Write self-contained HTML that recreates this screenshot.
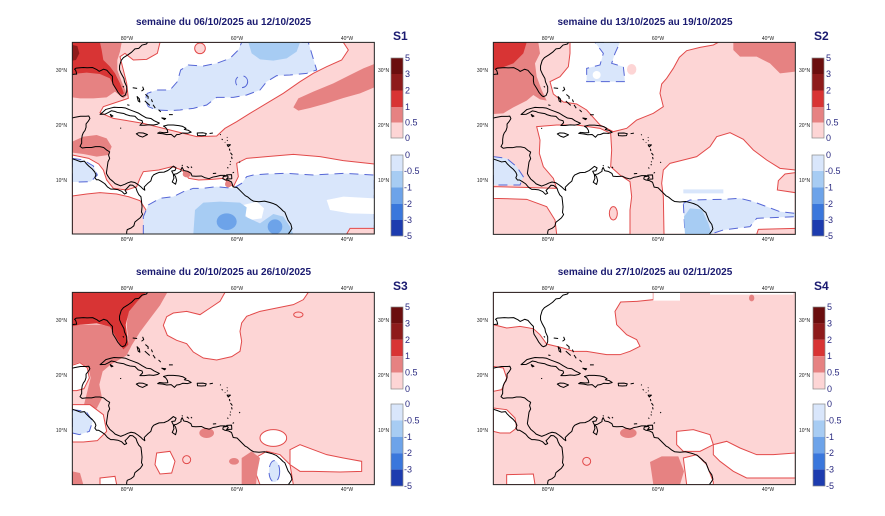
<!DOCTYPE html>
<html><head><meta charset="utf-8">
<style>
html,body{margin:0;padding:0;background:#fff;}
svg{display:block;}
.lp{fill:#fdd5d5}
.mp{fill:#e68282}
.r{fill:#d83434}
.dr{fill:#8e1b1b}
.w{fill:#fff;stroke:#e24a4a;stroke-width:1;vector-effect:non-scaling-stroke}
.wn{fill:#fff}
.lpc{fill:#fdd5d5;stroke:#e24a4a;stroke-width:1;vector-effect:non-scaling-stroke}
.rc{fill:none;stroke:#e24a4a;stroke-width:1;vector-effect:non-scaling-stroke}
.lb{fill:#d9e6fb;stroke:#5566d6;stroke-width:1;stroke-dasharray:9 6;vector-effect:non-scaling-stroke}
.lbn{fill:#d9e6fb}
.mb{fill:#a7ccf3}
.b{fill:#6da3e9}
.cst{fill:none;stroke:#000;stroke-width:1;vector-effect:non-scaling-stroke;stroke-linejoin:round}
.tt{font-family:"Liberation Sans",Arial,sans-serif;font-weight:bold;font-size:10px;fill:#1a1a70}
.sl{font-family:"Liberation Sans",Arial,sans-serif;font-weight:bold;font-size:12px;fill:#1a1a70}
.tk{font-family:"Liberation Sans",Arial,sans-serif;font-size:5px;fill:#222}
.cb{font-family:"Liberation Sans",Arial,sans-serif;font-size:9px;fill:#2a2a80}
</style></head>
<body>
<svg width="885" height="516" viewBox="0 0 885 516" xmlns="http://www.w3.org/2000/svg">
<defs>
<clipPath id="c1"><rect x="37" y="97" width="906" height="575"/></clipPath>
<clipPath id="c2"><rect x="40" y="97" width="906" height="576"/></clipPath>
<clipPath id="c3"><rect x="37" y="103" width="906" height="577"/></clipPath>
<clipPath id="c4"><rect x="40" y="103" width="906" height="577"/></clipPath>
<g id="coast">
<path class="cst" d="M-76.2,35.1 L-76.5,34.7 -77.3,34.5 -77.9,33.9 -78.6,33.8 -79.2,33.2 -79.9,32.7 -80.7,32.2 -81.1,31.7 -81.4,30.7 -81.4,30 -81.1,29.3 -80.6,28.4 -80.5,27.8 -80.1,26.9 -80.1,26 -80.4,25.3 -80.9,25.1 -81.2,25.3 -81.7,25.9 -82.1,26.6 -82.6,27.4 -82.7,28 -82.7,28.8 -83.1,29.2 -83.7,29.9 -84.3,30.1 -85.1,29.7 -85.5,30 -86.3,30.4 -87.3,30.35 -88,30.4 -88.6,30.35 -89.3,30.3 -89.6,30.1 -89.4,29.9 -89.3,29.6 -89.2,29.2 -89.5,29.2 -90.2,29.1"/>
<path class="cst" d="M-90.2,21.15 L-89.6,21.3 -88.5,21.5 -87.5,21.5 -87,21.55 -86.8,21.1 -87.1,20.6 -87.5,20.1 -87.5,19.5 -87.7,18.9 -88,18.5 -88.2,18 -88.3,17.3 -88.3,16.6 -88.6,16 -88.2,15.7 -87.5,15.8 -86.5,15.8 -85.8,15.95 -85,15.95 -84.3,15.8 -83.7,15.3 -83.2,15 -83.4,14.4 -83.2,13.8 -83.5,13.2 -83.6,12.5 -83.7,11.8 -83.8,11.1 -83.6,10.7 -83.2,10.1 -82.6,9.6 -82.2,9.2 -81.7,9 -81.2,8.8 -80.4,9.1 -79.9,9.35 -79.3,9.55 -78.6,9.4 -78,9 -77.5,8.6 -77.2,8.3 -76.8,8 -76.9,8.6 -76.2,9.3 -75.7,9.7 -75.5,10.4 -75.2,10.8 -74.8,11 -74.2,11.25 -73.3,11.3 -72.6,11.6 -72.2,11.9 -71.6,12.4 -71.1,12.1 -71.3,11.6 -71.9,11.5 -71.6,10.9 -71.5,10.2 -71.8,9.5 -71.2,9.1 -71,9.8 -71.2,10.5 -71.5,10.9 -71,11 -70.5,11.3 -70.2,11.5 -70.2,11.8 -70,12.2 -69.7,11.6 -69,11.45 -68.4,11.1 -68.2,10.6 -67.5,10.55 -66.5,10.6 -65.9,10.3 -65.1,10.1 -64.4,10.4 -63.8,10.5 -63,10.7 -62.2,10.7 -61.9,10.6 -62.5,10.5 -62.6,10.1 -62.2,9.9 -61.6,9.8 -61,9.5 -60.7,8.6 -60,8.5 -59.5,8 -59,7.5 -58.5,7 -58.1,6.8 -57.5,6.3 -57,6 -56,5.9 -55,6 -54,5.75 -53.5,5.6 -52.8,5.3 -52.1,4.7 -51.6,4.2 -51.3,4 -51.1,3.5 -50.7,2.5 -50.2,1.8 -50,1 -50.3,0.5 -50.6,0.1 -50.7,-0.2"/>
<path class="cst" d="M-90.5,13.9 L-89.3,13.5 -88.5,13.2 -87.8,13.3 -87.5,12.9 -87,12.4 -86.4,11.9 -85.9,11.3 -85.7,10.8 -85.9,10.3 -85.6,9.9 -85.2,9.9 -84.7,9.6 -84.1,9.2 -83.6,8.6 -83.3,8.4 -83,8.2 -82.5,8.2 -81.7,8.1 -81,7.8 -80.5,7.3 -80.1,7.5 -80.4,8 -80,8.4 -79.5,8.95 -79,8.9 -78.4,8.4 -78.2,7.8 -77.9,7.2 -77.5,6.8 -77.4,6 -77.3,5 -77.4,4 -77.2,3.6 -77.6,3 -78.1,2.6 -78.6,2.2 -78.8,1.5 -79.3,1.1 -80,0.8 -80.1,0.4 -80.1,-0.2"/>
<path class="cst" d="M-84.95,21.85 L-84.4,22.3 -83.9,22.75 -83,23 -82.4,23.15 -81.6,23.1 -81,23.1 -80.3,23 -79.6,22.7 -78.8,22.4 -78,22.1 -77.3,21.65 -76.5,21.2 -75.7,21.1 -75.1,20.7 -74.15,20.25 -74.5,20.05 -75.2,19.9 -76,19.95 -76.9,19.85 -77.7,19.85 -77.2,20.35 -77.3,20.7 -78,20.9 -78.6,21.5 -79.5,21.6 -80.2,21.8 -80.6,22 -81.2,22.1 -81.8,22.2 -82.3,22.4 -82.9,22.5 -83.4,22.2 -84,21.9 Z"/>
<path class="cst" d="M-74.45,18.4 L-73.5,18.3 -72.8,18.15 -72,18.2 -71.4,17.7 -71,18.15 -70.5,18.2 -69.9,18.45 -69,18.4 -68.35,18.6 -68.9,18.95 -69.6,19.1 -69.3,19.3 -69.9,19.65 -70.6,19.8 -71.6,19.9 -72.6,19.9 -73.4,19.7 -73,19.45 -72.7,19 -72.6,18.55 -73.3,18.5 -74.1,18.6 Z"/>
<path class="cst" d="M-78.35,18.3 L-77.9,18.5 -77.1,18.45 -76.3,18.15 -76.8,17.9 -77.2,17.7 -77.8,17.9 -78.2,18.2 Z"/>
<path class="cst" d="M-67.25,18.45 L-66.2,18.48 -65.6,18.35 -65.75,18 -66.5,17.95 -67.2,18 Z"/>
<path class="cst" d="M-83.1,21.85 L-82.6,21.55 -82.9,21.45 Z"/>
<path class="cst" d="M-61.9,10.8 L-61,10.85 -60.95,10.1 -61.9,10.05 -61.6,10.4 Z"/>
<path class="cst" d="M-79,26.7 L-78.2,26.6 M-77.2,26.9 L-77,26.4 -77.4,26.1 M-78.2,25.1 L-77.8,24.7 -77.7,24.1 -78,24.3 Z M-76.7,25.5 L-76.2,25.1 -76.2,24.7 M-76.8,24.3 L-75.9,23.5 M-75.3,23.6 L-74.9,23 M-75.6,24.6 L-75.4,24.1 M-74.3,22.7 L-73.9,22.3 M-73.7,21.2 L-73,21.1 -73.2,20.9 Z M-72.4,21.8 L-71.7,21.8 M-80,23.6 L-79.6,23.5 M-81.3,19.3 L-81.1,19.35 M-80.8,27 L-80.6,26.8 M-65,18.35 L-64.4,18.45 M-63.1,18.2 L-62.95,18.1 M-62.8,17.35 L-62.6,17.2 M-61.85,17.6 L-61.75,17.7 M-62.2,16.8 L-62.15,16.7 M-61.85,17.1 L-61.7,17.05 M-61.8,16.3 L-61.2,16.3 -61.6,15.95 Z M-61.4,15.6 L-61.3,15.2 M-61.2,14.85 L-60.85,14.4 M-61,14.1 L-60.9,13.7 M-61.25,13.3 L-61.15,13.15 M-59.6,13.2 L-59.45,13.05 M-61.3,12.8 L-61.2,12.6 M-61.75,12.2 L-61.6,12 M-60.8,11.15 L-60.55,11.3 M-70.05,12.6 L-69.9,12.45 M-69.15,12.35 L-68.75,12.05 M-68.4,12.3 L-68.2,12.1 M-64.4,11.05 L-63.8,11.1"/>
</g>
</defs>

<rect width="885" height="516" fill="#fff"/>

<!-- ============ PANEL 1 ============ -->
<g transform="translate(60,10) scale(0.333333)">
<g clip-path="url(#c1)">
<rect class="lp" x="37" y="97" width="906" height="575"/>
<path class="mp" d="M37,97 L185,97 180,125 172,150 172,180 185,215 202,255 190,265 165,245 140,262 100,265 60,265 37,262Z"/>
<path class="r" d="M37,97 L120,97 125,120 130,150 150,170 165,190 180,220 192,250 185,255 165,235 150,205 120,192 80,188 37,192Z"/>
<path class="dr" d="M37,105 L52,108 58,130 48,150 37,152Z"/>
<path class="mp" d="M37,395 L70,380 110,375 140,385 155,410 145,435 110,440 70,432 37,428Z"/>
<path class="w" d="M300,97 L850,97 865,120 845,150 800,170 760,190 720,215 670,250 620,280 570,310 530,335 495,355 470,378 410,380 330,360 250,340 160,325 120,308 130,290 205,265 200,220 190,180 180,140 195,130 220,150 260,148 292,130Z"/>
<circle class="lpc" cx="420" cy="115" r="16"/>
<path class="lb" d="M545,97 L745,97 755,130 770,180 740,190 690,195 650,197 620,215 600,240 560,255 520,262 470,262 440,285 400,295 360,300 330,302 290,300 265,290 255,270 262,250 290,240 330,240 352,215 362,180 385,165 430,168 470,160 510,145 535,120Z"/>
<circle class="lb" cx="545" cy="215" r="18"/>
<path class="mb" d="M565,97 L720,97 710,125 680,145 640,152 600,148 575,130Z"/>
<path class="mp" d="M700,292 L715,265 760,245 820,220 870,195 910,175 943,162 943,232 900,250 850,264 800,280 750,294 715,302Z"/>
<path class="w" d="M37,435 L86,445 116,462 130,480 140,510 160,535 200,540 230,530 240,505 250,485 296,480 336,470 366,480 386,505 416,510 456,508 490,505 520,530 535,500 530,460 560,445 620,440 700,433 780,440 850,452 943,462 943,672 37,672Z"/>
<path class="lpc" d="M37,558 L80,552 120,548 170,552 205,560 240,572 258,600 252,672 37,672Z"/>
<path class="lb" d="M37,445 L70,450 100,468 112,495 92,515 55,516 37,516Z"/>
<path class="lb" d="M250,672 L250,620 265,585 300,565 340,560 370,545 400,535 430,535 470,530 520,535 545,520 560,500 580,495 620,492 680,490 760,495 850,490 943,495 943,672Z"/>
<path class="wn" d="M800,570 L850,560 943,565 943,612 870,610 810,600Z"/>
<path class="wn" d="M550,585 L590,575 612,595 605,625 570,630 550,610Z"/>
<path class="lpc" d="M860,672 L870,655 943,655 943,672Z"/>
<path class="mb" d="M400,672 L405,600 430,578 480,575 540,578 560,592 556,620 600,640 640,612 670,620 690,650 700,672Z"/>
<ellipse class="b" cx="500" cy="635" rx="30" ry="25"/>
<ellipse class="b" cx="645" cy="650" rx="22" ry="22"/>
<ellipse class="mp" cx="380" cy="492" rx="12" ry="10"/>
<ellipse class="mp" cx="505" cy="522" rx="10" ry="10"/>
<use href="#coast" transform="translate(37,97) scale(16.47,-16.43) translate(90,-35)"/>
</g>
<rect x="37" y="97" width="906" height="575" fill="none" stroke="#222" stroke-width="1" style="vector-effect:non-scaling-stroke"/>
</g>

<!-- ============ PANEL 2 ============ -->
<g transform="translate(480,10) scale(0.333333)">
<g clip-path="url(#c2)">
<rect class="lp" x="40" y="97" width="906" height="576"/>
<path class="mp" d="M40,97 L175,97 180,130 165,160 170,200 185,240 200,272 180,268 160,255 140,272 100,292 70,310 40,312Z"/>
<path class="r" d="M40,97 L140,97 130,130 100,160 60,175 40,180Z"/>
<path class="w" d="M270,97 L715,97 700,105 660,112 620,122 598,142 580,175 560,205 545,222 540,250 550,290 520,310 470,330 440,355 400,365 360,345 320,300 290,282 250,276 220,252 210,215 240,200 265,170 270,130Z"/>
<ellipse class="lp" cx="455" cy="178" rx="14" ry="16"/>
<path class="lb" d="M345,97 L420,97 405,130 395,160 430,170 435,215 360,215 320,215 320,175 360,165 370,130Z"/>
<circle class="wn" cx="350" cy="195" r="12"/>
<path class="mp" d="M760,97 L946,97 946,185 900,190 870,160 830,140 780,140 760,120Z"/>
<path class="w" d="M170,350 L230,345 290,345 360,355 392,370 395,420 392,470 420,495 450,515 455,560 450,600 450,673 230,673 225,630 200,590 140,568 40,565 40,530 130,532 230,535 220,505 190,470 178,430 180,390Z"/>
<path class="lb" d="M40,440 L80,445 110,470 130,500 120,525 80,525 40,525Z"/>
<ellipse class="lpc" cx="400" cy="610" rx="12" ry="20"/>
<path class="w" d="M550,480 L570,460 610,450 650,440 690,410 710,380 750,368 790,388 820,420 860,450 900,475 946,480 946,673 552,673 550,560 545,520Z"/>
<path class="lpc" d="M946,488 L915,492 895,512 892,540 946,548Z"/>
<path class="lbn" d="M610,538 L730,538 730,550 610,550Z"/>
<path class="lb" d="M610,580 L630,570 730,568 780,565 820,575 860,590 900,605 946,610 946,620 830,625 810,650 730,660 690,673 615,673Z"/>
<path class="mb" d="M615,673 L612,620 630,595 665,598 685,640 695,673Z"/>
<path class="lpc" d="M830,673 L835,658 946,655 946,673Z"/>
<use href="#coast" transform="translate(40,97) scale(16.47,-16.46) translate(90,-35)"/>
</g>
<rect x="40" y="97" width="906" height="576" fill="none" stroke="#222" stroke-width="1" style="vector-effect:non-scaling-stroke"/>
</g>

<!-- ============ PANEL 3 ============ -->
<g transform="translate(60,258) scale(0.333333)">
<g clip-path="url(#c3)">
<rect class="lp" x="37" y="103" width="906" height="577"/>
<path class="mp" d="M37,200 L37,320 60,312 85,330 92,360 82,400 72,440 110,452 126,420 118,380 128,340 152,320 200,292 215,262 240,222 270,182 300,142 322,103 255,103 230,130 205,160 200,200 205,250 190,270 175,245 155,205 120,200 70,200Z"/>
<path class="r" d="M37,103 L258,103 232,130 207,160 197,200 205,260 190,274 170,242 150,206 110,196 60,200 37,205Z"/>
<path class="w" d="M37,322 L60,314 82,330 88,360 72,392 50,398 37,398Z"/>
<path class="w" d="M37,440 L90,440 130,470 140,520 112,548 70,552 37,552Z"/>
<path class="lb" d="M37,455 L78,460 98,490 88,520 58,530 37,525Z"/>
<path class="w" d="M495,103 L745,103 730,125 700,140 650,150 600,160 560,175 545,195 540,220 545,250 540,280 515,296 470,306 430,300 400,282 380,257 350,247 322,232 310,202 320,176 340,165 380,160 420,170 450,150 480,130Z"/>
<rect class="wn" x="545" y="148" width="25" height="22"/>
<ellipse class="rc" cx="715" cy="170" rx="14" ry="8"/>
<ellipse class="w" cx="640" cy="540" rx="40" ry="25"/>
<path class="w" d="M690,575 L720,560 760,575 800,590 850,600 905,610 905,640 840,642 760,640 720,640 690,620Z"/>
<path class="w" d="M585,600 L620,580 660,590 690,620 700,680 600,680 585,640Z"/>
<ellipse class="lb" cx="643" cy="640" rx="16" ry="32"/>
<ellipse class="mp" cx="440" cy="525" rx="22" ry="15"/>
<ellipse class="mp" cx="522" cy="610" rx="15" ry="10"/>
<path class="mp" d="M545,600 L575,580 600,600 592,640 588,680 545,680Z"/>
<path class="mp" d="M37,640 L60,645 70,680 37,680Z"/>
<path class="w" d="M290,585 L330,580 345,610 335,645 300,648 285,620Z"/>
<path class="w" d="M120,660 L165,655 170,680 120,680Z"/>
<circle class="rc" cx="380" cy="605" r="12"/>
<use href="#coast" transform="translate(37,103) scale(16.47,-16.49) translate(90,-35)"/>
</g>
<rect x="37" y="103" width="906" height="577" fill="none" stroke="#222" stroke-width="1" style="vector-effect:non-scaling-stroke"/>
</g>

<!-- ============ PANEL 4 ============ -->
<g transform="translate(480,258) scale(0.333333)">
<g clip-path="url(#c4)">
<rect class="lp" x="40" y="103" width="906" height="577"/>
<path class="w" d="M40,103 L520,103 520,125 470,130 422,132 405,160 410,200 440,230 470,245 480,265 450,280 420,290 380,290 320,280 280,280 250,270 200,258 180,230 160,212 120,205 80,210 40,200Z"/>
<path class="wn" d="M520,103 L600,103 600,128 520,128Z"/>
<path class="wn" d="M690,103 L940,103 940,110 690,110Z"/>
<path class="w" d="M40,325 L70,330 80,360 65,395 40,400Z"/>
<path class="w" d="M40,450 L80,455 105,480 110,510 90,525 60,525 40,520Z"/>
<path class="w" d="M590,520 L640,515 690,530 700,560 660,580 610,580 590,560Z"/>
<path class="w" d="M700,560 L740,550 780,570 830,590 880,590 946,585 946,660 800,660 760,640 720,610 700,590Z"/>
<path class="w" d="M610,600 L650,590 680,620 700,672 700,680 620,680Z"/>
<path class="w" d="M80,650 L160,648 165,680 80,680Z"/>
<circle class="rc" cx="320" cy="610" r="12"/>
<ellipse class="mp" cx="445" cy="525" rx="25" ry="15"/>
<path class="mp" d="M510,612 L545,595 595,595 612,640 600,680 520,680Z"/>
<ellipse class="mp" cx="815" cy="120" rx="8" ry="10"/>
<use href="#coast" transform="translate(40,103) scale(16.47,-16.49) translate(90,-35)"/>
</g>
<rect x="40" y="103" width="906" height="577" fill="none" stroke="#222" stroke-width="1" style="vector-effect:non-scaling-stroke"/>
</g>

<!-- ============ TITLES ============ -->
<text class="tt" x="223.5" y="25" text-anchor="middle">semaine du 06/10/2025 au 12/10/2025</text>
<text class="tt" x="645" y="25" text-anchor="middle">semaine du 13/10/2025 au 19/10/2025</text>
<text class="tt" x="223.5" y="275" text-anchor="middle">semaine du 20/10/2025 au 26/10/2025</text>
<text class="tt" x="645" y="275" text-anchor="middle">semaine du 27/10/2025 au 02/11/2025</text>
<text class="sl" x="393" y="40">S1</text>
<text class="sl" x="814" y="40">S2</text>
<text class="sl" x="393" y="290">S3</text>
<text class="sl" x="814" y="290">S4</text>

<!-- ============ TICK LABELS ============ -->
<g class="tk" text-anchor="middle">
<text x="127" y="40">80°W</text><text x="237" y="40">60°W</text><text x="347" y="40">40°W</text>
<text x="127" y="241">80°W</text><text x="237" y="241">60°W</text><text x="347" y="241">40°W</text>
<text x="548" y="40">80°W</text><text x="658" y="40">60°W</text><text x="768" y="40">40°W</text>
<text x="548" y="241">80°W</text><text x="658" y="241">60°W</text><text x="768" y="241">40°W</text>
<text x="127" y="290">80°W</text><text x="237" y="290">60°W</text><text x="347" y="290">40°W</text>
<text x="127" y="491">80°W</text><text x="237" y="491">60°W</text><text x="347" y="491">40°W</text>
<text x="548" y="290">80°W</text><text x="658" y="290">60°W</text><text x="768" y="290">40°W</text>
<text x="548" y="491">80°W</text><text x="658" y="491">60°W</text><text x="768" y="491">40°W</text>
</g>
<g class="tk" text-anchor="end">
<text x="67" y="72">30°N</text><text x="67" y="127">20°N</text><text x="67" y="182">10°N</text>
<text x="488" y="72">30°N</text><text x="488" y="127">20°N</text><text x="488" y="182">10°N</text>
<text x="67" y="322">30°N</text><text x="67" y="377">20°N</text><text x="67" y="432">10°N</text>
<text x="488" y="322">30°N</text><text x="488" y="377">20°N</text><text x="488" y="432">10°N</text>
</g>
<g class="tk">
<text x="378" y="72">30°N</text><text x="378" y="127">20°N</text><text x="378" y="182">10°N</text>
<text x="799" y="72">30°N</text><text x="799" y="127">20°N</text><text x="799" y="182">10°N</text>
<text x="378" y="322">30°N</text><text x="378" y="377">20°N</text><text x="378" y="432">10°N</text>
<text x="799" y="322">30°N</text><text x="799" y="377">20°N</text><text x="799" y="432">10°N</text>
</g>

<!-- ============ COLORBARS ============ -->
<g>
<rect x="391" y="58" width="12" height="16" fill="#6b0e0e"/>
<rect x="391" y="74" width="12" height="16.5" fill="#8e1b1b"/>
<rect x="391" y="90.5" width="12" height="16.5" fill="#d83434"/>
<rect x="391" y="107" width="12" height="15.5" fill="#e68282"/>
<rect x="391" y="122.5" width="12" height="15.5" fill="#fdd5d5"/>
<rect x="391" y="58" width="12" height="80" fill="none" stroke="#888" stroke-width="0.7"/>
<rect x="391" y="155" width="12" height="16" fill="#d9e6fb"/>
<rect x="391" y="171" width="12" height="16.5" fill="#a7ccf3"/>
<rect x="391" y="187.5" width="12" height="16.5" fill="#6da3e9"/>
<rect x="391" y="204" width="12" height="16" fill="#3a77dc"/>
<rect x="391" y="220" width="12" height="16" fill="#1d3caf"/>
<rect x="391" y="155" width="12" height="81" fill="none" stroke="#888" stroke-width="0.7"/>
<g class="cb">
<text x="405" y="61">5</text><text x="405" y="77">3</text><text x="405" y="93.5">2</text><text x="405" y="110">1</text><text x="405" y="125.5">0.5</text><text x="405" y="141">0</text>
<text x="405" y="158">0</text><text x="404" y="174">-0.5</text><text x="404" y="190.5">-1</text><text x="404" y="207">-2</text><text x="404" y="223">-3</text><text x="404" y="239">-5</text>
</g>
</g>
<g>
<rect x="812" y="58" width="12" height="16" fill="#6b0e0e"/>
<rect x="812" y="74" width="12" height="16.5" fill="#8e1b1b"/>
<rect x="812" y="90.5" width="12" height="16.5" fill="#d83434"/>
<rect x="812" y="107" width="12" height="15.5" fill="#e68282"/>
<rect x="812" y="122.5" width="12" height="15.5" fill="#fdd5d5"/>
<rect x="812" y="58" width="12" height="80" fill="none" stroke="#888" stroke-width="0.7"/>
<rect x="812" y="155" width="12" height="16" fill="#d9e6fb"/>
<rect x="812" y="171" width="12" height="16.5" fill="#a7ccf3"/>
<rect x="812" y="187.5" width="12" height="16.5" fill="#6da3e9"/>
<rect x="812" y="204" width="12" height="16" fill="#3a77dc"/>
<rect x="812" y="220" width="12" height="16" fill="#1d3caf"/>
<rect x="812" y="155" width="12" height="81" fill="none" stroke="#888" stroke-width="0.7"/>
<g class="cb">
<text x="826" y="61">5</text><text x="826" y="77">3</text><text x="826" y="93.5">2</text><text x="826" y="110">1</text><text x="826" y="125.5">0.5</text><text x="826" y="141">0</text>
<text x="826" y="158">0</text><text x="825" y="174">-0.5</text><text x="825" y="190.5">-1</text><text x="825" y="207">-2</text><text x="825" y="223">-3</text><text x="825" y="239">-5</text>
</g>
</g>
<g>
<rect x="391" y="307" width="12" height="16.4" fill="#6b0e0e"/>
<rect x="391" y="323.4" width="12" height="16.4" fill="#8e1b1b"/>
<rect x="391" y="339.8" width="12" height="16.4" fill="#d83434"/>
<rect x="391" y="356.2" width="12" height="16.4" fill="#e68282"/>
<rect x="391" y="372.6" width="12" height="16.4" fill="#fdd5d5"/>
<rect x="391" y="307" width="12" height="82" fill="none" stroke="#888" stroke-width="0.7"/>
<rect x="391" y="404" width="12" height="16.4" fill="#d9e6fb"/>
<rect x="391" y="420.4" width="12" height="16.4" fill="#a7ccf3"/>
<rect x="391" y="436.8" width="12" height="16.4" fill="#6da3e9"/>
<rect x="391" y="453.2" width="12" height="16.4" fill="#3a77dc"/>
<rect x="391" y="469.6" width="12" height="16.4" fill="#1d3caf"/>
<rect x="391" y="404" width="12" height="82" fill="none" stroke="#888" stroke-width="0.7"/>
<g class="cb">
<text x="405" y="310">5</text><text x="405" y="326.4">3</text><text x="405" y="342.8">2</text><text x="405" y="359.2">1</text><text x="405" y="375.6">0.5</text><text x="405" y="392">0</text>
<text x="405" y="407">0</text><text x="404" y="423.4">-0.5</text><text x="404" y="439.8">-1</text><text x="404" y="456.2">-2</text><text x="404" y="472.6">-3</text><text x="404" y="489">-5</text>
</g>
</g>
<g>
<rect x="813" y="307" width="12" height="16.4" fill="#6b0e0e"/>
<rect x="813" y="323.4" width="12" height="16.4" fill="#8e1b1b"/>
<rect x="813" y="339.8" width="12" height="16.4" fill="#d83434"/>
<rect x="813" y="356.2" width="12" height="16.4" fill="#e68282"/>
<rect x="813" y="372.6" width="12" height="16.4" fill="#fdd5d5"/>
<rect x="813" y="307" width="12" height="82" fill="none" stroke="#888" stroke-width="0.7"/>
<rect x="813" y="404" width="12" height="16.4" fill="#d9e6fb"/>
<rect x="813" y="420.4" width="12" height="16.4" fill="#a7ccf3"/>
<rect x="813" y="436.8" width="12" height="16.4" fill="#6da3e9"/>
<rect x="813" y="453.2" width="12" height="16.4" fill="#3a77dc"/>
<rect x="813" y="469.6" width="12" height="16.4" fill="#1d3caf"/>
<rect x="813" y="404" width="12" height="82" fill="none" stroke="#888" stroke-width="0.7"/>
<g class="cb">
<text x="827" y="310">5</text><text x="827" y="326.4">3</text><text x="827" y="342.8">2</text><text x="827" y="359.2">1</text><text x="827" y="375.6">0.5</text><text x="827" y="392">0</text>
<text x="827" y="407">0</text><text x="826" y="423.4">-0.5</text><text x="826" y="439.8">-1</text><text x="826" y="456.2">-2</text><text x="826" y="472.6">-3</text><text x="826" y="489">-5</text>
</g>
</g>
</svg>
</body></html>
